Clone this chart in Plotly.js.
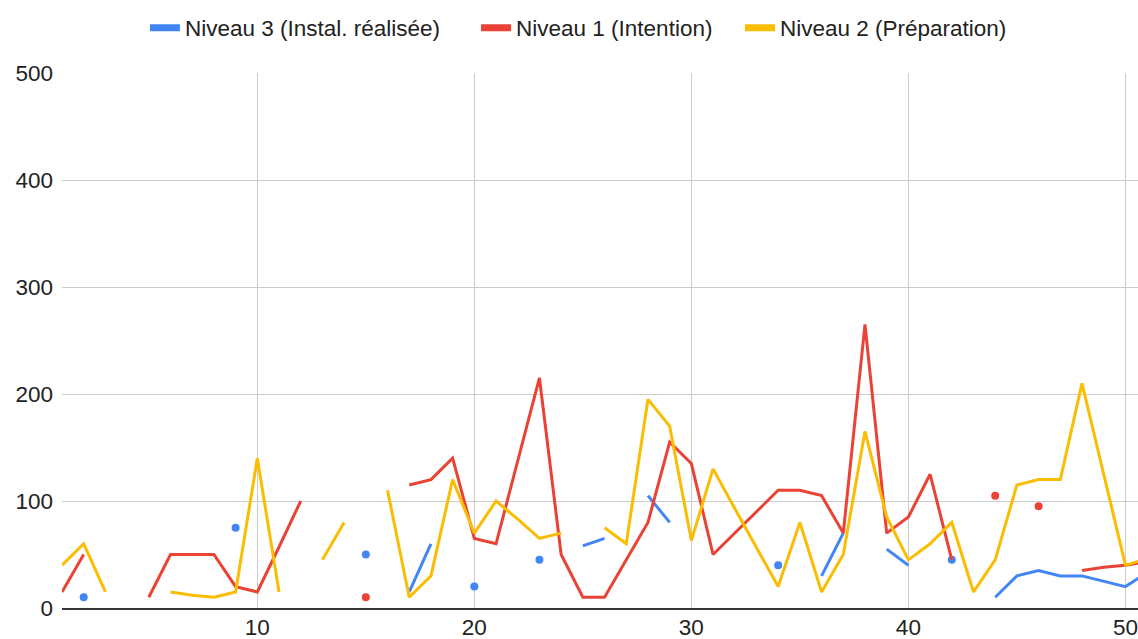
<!DOCTYPE html>
<html>
<head>
<meta charset="utf-8">
<script src="https://cdn.plot.ly/plotly-3.0.1.min.js"></script>
<style>html,body{margin:0;padding:0;background:#fff;}#chart{width:1138px;height:639px;}</style>
</head>
<body>
<div id="chart"></div>
<script>
const xValues = Array.from({length: 51}, (_, i) => i + 1);

const seriesNames = ["Niveau 3 (Instal. réalisée)", "Niveau 1 (Intention)", "Niveau 2 (Préparation)"];
const seriesColors = ["#4285F4", "#EA4335", "#FBBC04"];

const niveau3 = [null, 10, null, null, null, null, null, null, 75, null,
                 null, null, null, null, 50, null, 15, 60, null, 20,
                 null, null, 45, null, 58, 65, null, 105, 80, null,
                 null, null, null, 40, null, 30, 70, null, 55, 40,
                 null, 45, null, 10, 30, 35, 30, 30, 25, 20,
                 33];

const niveau1 = [15, 50, null, null, 10, 50, 50, 50, 20, 15,
                 57, 100, null, null, 10, null, 115, 120, 140, 65,
                 60, 138, 215, 50, 10, 10, 45, 80, 155, 135,
                 50, 70, 90, 110, 110, 105, 70, 265, 70, 85,
                 125, 45, null, 105, null, 95, null, 35, 38, 40,
                 43];

const niveau2 = [40, 60, 15, null, null, 15, 12, 10, 15, 140,
                 15, null, 45, 80, null, 110, 10, 30, 120, 70,
                 100, 83, 65, 70, null, 75, 60, 195, 170, 63,
                 130, 93, 57, 20, 80, 15, 50, 165, 85, 45,
                 60, 80, 15, 45, 115, 120, 120, 210, 125, 40,
                 46];

const seriesData = [niveau3, niveau1, niveau2];
const legendIds = ['legend', 'legend2', 'legend3'];

function isolatedSizes(ys) {
  return ys.map((v, i) => {
    if (v === null) return 0;
    const prev = i > 0 ? ys[i - 1] : null;
    const next = i < ys.length - 1 ? ys[i + 1] : null;
    return (prev === null && next === null) ? 8 : 0;
  });
}

const traces = [];
seriesData.forEach((ys, k) => {
  traces.push({
    type: 'scatter',
    mode: 'lines+markers',
    x: xValues,
    y: ys,
    name: seriesNames[k],
    showlegend: false,
    connectgaps: false,
    line: {color: seriesColors[k], width: 3},
    marker: {color: seriesColors[k], size: isolatedSizes(ys), opacity: 1, line: {width: 0}},
    hoverinfo: 'x+y+name'
  });
});
seriesData.forEach((ys, k) => {
  traces.push({
    type: 'scatter',
    mode: 'lines',
    x: [null],
    y: [null],
    name: seriesNames[k],
    showlegend: true,
    legend: legendIds[k],
    line: {color: seriesColors[k], width: 7},
    hoverinfo: 'skip'
  });
});

const font = {family: "'Liberation Sans', Arial, sans-serif", size: 22.5, color: '#222222'};

function legendAt(xp) {
  return {
    orientation: 'h',
    x: xp, xanchor: 'left',
    y: 1.084, yanchor: 'middle',
    font: font,
    itemwidth: 30,
    bgcolor: 'rgba(0,0,0,0)',
    borderwidth: 0
  };
}

const layout = {
  width: 1138,
  height: 639,
  margin: {l: 62, r: 0, t: 73, b: 31},
  paper_bgcolor: '#ffffff',
  plot_bgcolor: '#ffffff',
  font: font,
  showlegend: true,
  legend: legendAt(0.0771),
  legend2: legendAt(0.3848),
  legend3: legendAt(0.6301),
  xaxis: {
    range: [1, 50.58],
    tick0: 0,
    dtick: 10,
    showgrid: true,
    gridcolor: '#cccccc',
    gridwidth: 1,
    zeroline: false,
    showline: true,
    linecolor: '#333333',
    linewidth: 2,
    ticks: '',
    ticklabelstandoff: -2,
    tickfont: font,
    fixedrange: true
  },
  yaxis: {
    range: [0, 500],
    tick0: 0,
    dtick: 100,
    showgrid: true,
    gridcolor: '#cccccc',
    gridwidth: 1,
    zeroline: false,
    showline: false,
    ticks: '',
    ticklabelstandoff: 8,
    tickfont: font,
    fixedrange: true
  }
};

Plotly.newPlot('chart', traces, layout, {displayModeBar: false, staticPlot: true});
</script>
</body>
</html>
